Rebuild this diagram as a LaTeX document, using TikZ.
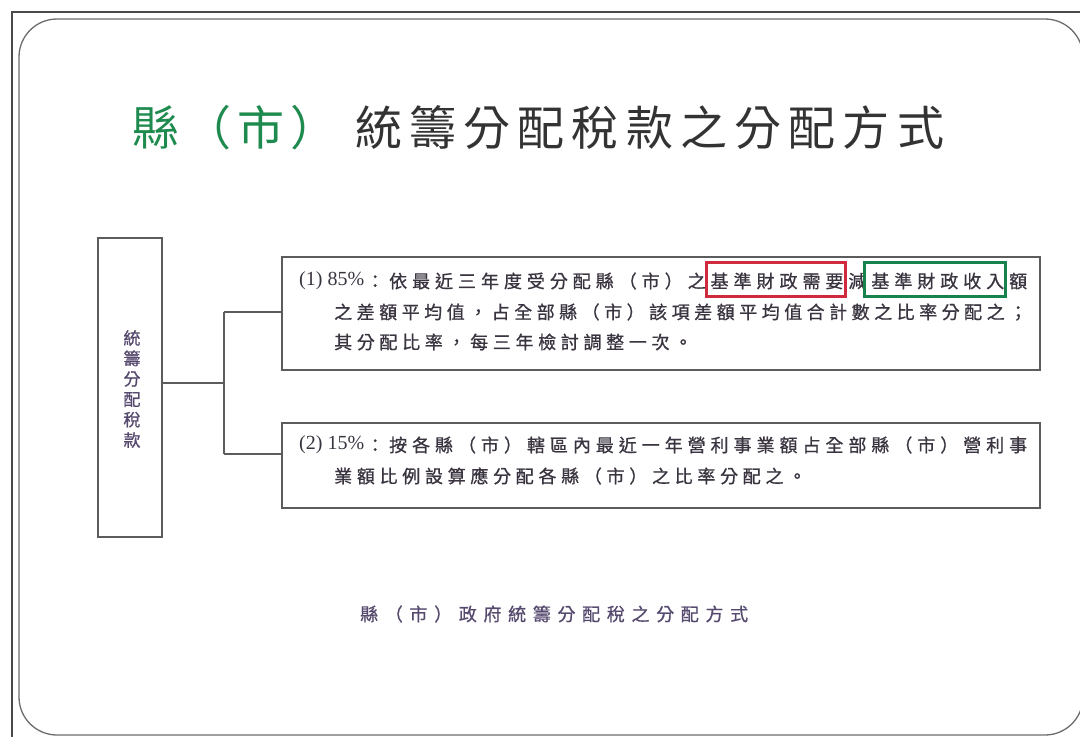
\documentclass[tikz,border=0pt]{standalone}
\usepackage{fontspec}
\setmainfont{Liberation Serif}
\newfontfamily\cjk{Noto Sans CJK TC}
\newfontfamily\cjkb[FakeBold=0.8]{Noto Sans CJK TC}
\makeatletter
\def\sp@nil{\sp@nil}
\newcommand\spread[2]{\makebox[#1][s]{\sp@first#2\sp@nil}}
\def\sp@first#1{#1\sp@loop}
\def\sp@loop#1{\ifx\sp@nil#1\else\hfil#1\expandafter\sp@loop\fi}
\makeatother
\definecolor{txt}{HTML}{3A3440}
\definecolor{purp}{HTML}{56496E}
\definecolor{tgreen}{HTML}{1E8A4E}
\definecolor{hred}{HTML}{D02A3E}
\definecolor{hgreen}{HTML}{17824C}
\definecolor{frame}{HTML}{4A4A4A}
\tikzset{
  line/.style={draw=frame!90, line width=1.3pt},
  box/.style={line, rectangle, inner sep=0pt},
  body/.style={inner sep=0pt, anchor=west, text=txt, font=\cjkb\fontsize{18}{20}\selectfont},
  latin/.style={inner sep=0pt, anchor=west, text=txt, font=\rmfamily\fontsize{20}{22}\selectfont},
  hl/.style={line width=3pt, rectangle, inner sep=0pt}
}
\begin{document}
\begin{tikzpicture}[x=1pt,y=-1pt]
\useasboundingbox (0,0) rectangle (1080,737);
% scan frame
\draw[line width=2.6pt, draw=frame] (1080,12) -- (12,12) -- (12,737);
% rounded slide border
\draw[line width=1.3pt, draw=gray!85!black, rounded corners=38pt] (19,19) rectangle (1083,735);
% title
\node[inner sep=0pt, anchor=west, text=tgreen, font=\cjk\fontsize{47}{50}\selectfont] (t1) at (132,128) {\spread{205pt}{縣（市）}};
\node[inner sep=0pt, anchor=west, text=black!80, font=\cjk\fontsize{47}{50}\selectfont] (t2) at (355,128) {\spread{589pt}{統籌分配稅款之分配方式}};
% boxes
\node[box, minimum width=64pt, minimum height=299pt] (root) at (130,387.5) {};
\node[inner sep=0pt, text=purp, align=center, font=\cjkb\fontsize{17}{20.4}\selectfont] (rootlbl) at (132,389) {統\\籌\\分\\配\\稅\\款};
\node[box, minimum width=758pt, minimum height=113pt] (b1) at (661,313.5) {};
\node[box, minimum width=758pt, minimum height=85pt] (b2) at (661,465.5) {};
% connectors
\coordinate (rootout) at (162,383);
\coordinate (split) at (224,383);
\coordinate (in1) at (282,312);
\coordinate (in2) at (282,454);
\draw[line] (rootout) -- (split);
\draw[line] (split |- in1) -- (split |- in2);
\draw[line] (split |- in1) -- (in1);
\draw[line] (split |- in2) -- (in2);
% box 1 text
\node[latin] (l1a) at (299,281) {(1) 85\%};
\node[body] (l1b) at (366,281) {\spread{661pt}{：依最近三年度受分配縣（市）之基準財政需要減基準財政收入額}};
\node[body] (l1c) at (334,312) {\spread{693pt}{之差額平均值，占全部縣（市）該項差額平均值合計數之比率分配之；}};
\node[body] (l1d) at (334,342) {\spread{358pt}{其分配比率，每三年檢討調整一次。}};
% highlight boxes
\node[hl, draw=hred, minimum width=139pt, minimum height=34pt] (red) at (775.5,279) {};
\node[hl, draw=hgreen, minimum width=141pt, minimum height=34pt] (grn) at (934.5,279) {};
% box 2 text
\node[latin] (l2a) at (299,445) {(2) 15\%};
\node[body] (l2b) at (366,445) {\spread{661pt}{：按各縣（市）轄區內最近一年營利事業額占全部縣（市）營利事}};
\node[body] (l2c) at (334,476) {\spread{472pt}{業額比例設算應分配各縣（市）之比率分配之。}};
% caption
\node[inner sep=0pt, anchor=west, text=purp, font=\cjkb\fontsize{18}{20}\selectfont] (cap) at (360,614) {\spread{388pt}{縣（市）政府統籌分配稅之分配方式}};
\end{tikzpicture}
\end{document}
